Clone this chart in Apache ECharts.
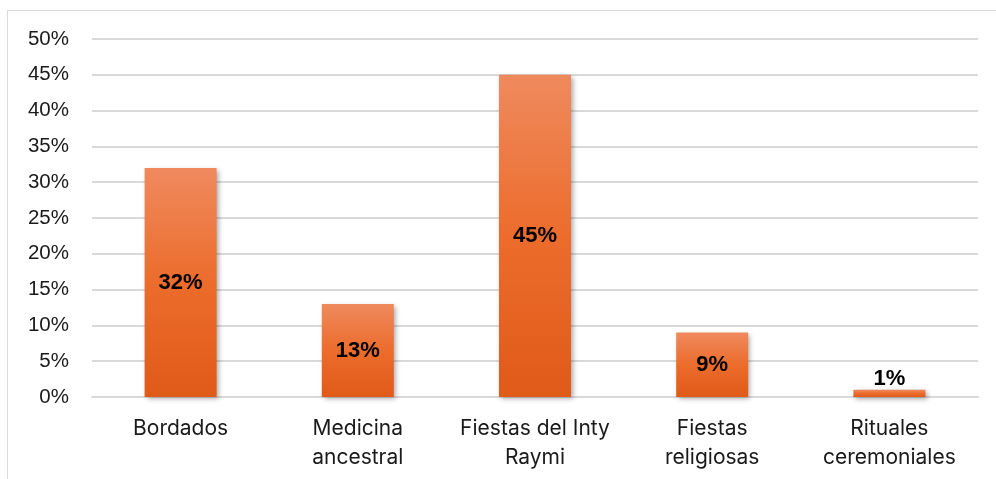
<!DOCTYPE html>
<html>
<head>
<meta charset="utf-8">
<script src="https://cdn.jsdelivr.net/npm/echarts@6/dist/echarts.min.js"></script>
<style>
  html, body { margin: 0; padding: 0; background: #ffffff; }
  #chart { width: 996px; height: 479px; }
</style>
</head>
<body>
<div id="chart"></div>
<script>
// Categories and percentages
const categories = ['Bordados', 'Medicina\nancestral', 'Fiestas del Inty\nRaymi', 'Fiestas\nreligiosas', 'Rituales\nceremoniales'];
const values = [32, 13, 45, 9, 1];
const yTicks = { min: 0, max: 50, step: 5 };

const chart = echarts.init(document.getElementById('chart'), null, { renderer: 'canvas' });

// Small bars get their label above the bar instead of inside
const barData = values.map(v => ({
  value: v,
  label: v < 3 ? { position: 'top', distance: 0 } : undefined
}));

chart.setOption({
  backgroundColor: '#ffffff',
  animation: false,
  graphic: [{
    type: 'rect',
    shape: { x: 7.5, y: 10.5, width: 1000, height: 500 },
    style: { fill: 'none', stroke: '#d9d9d9', lineWidth: 1 },
    silent: true
  }],
  grid: { left: 92, right: 18, top: 39, bottom: 82 },
  xAxis: {
    type: 'category',
    data: categories,
    axisLine: { show: true, lineStyle: { color: '#d9d9d9', width: 2 } },
    axisTick: { show: false },
    axisLabel: {
      color: '#1a1a1a',
      fontFamily: 'Inter',
      fontSize: 21,
      lineHeight: 29,
      margin: 17,
      interval: 0
    }
  },
  yAxis: {
    type: 'value',
    min: yTicks.min,
    max: yTicks.max,
    interval: yTicks.step,
    axisLine: { show: false },
    axisTick: { show: false },
    splitLine: { lineStyle: { color: '#d9d9d9', width: 2 } },
    axisLabel: {
      color: '#1a1a1a',
      fontFamily: 'Liberation Sans',
      fontSize: 20.5,
      margin: 23,
      formatter: '{value}%'
    }
  },
  series: [{
    type: 'bar',
    data: barData,
    barWidth: 72,
    itemStyle: {
      color: new echarts.graphic.LinearGradient(0, 0, 0, 1, [
        { offset: 0, color: '#EF8A5E' },
        { offset: 0.5, color: '#EC6C2C' },
        { offset: 1, color: '#E05A18' }
      ]),
      shadowColor: 'rgba(0,0,0,0.35)',
      shadowBlur: 5,
      shadowOffsetX: 2,
      shadowOffsetY: 2
    },
    label: {
      show: true,
      position: 'inside',
      formatter: '{c}%',
      color: '#000000',
      fontFamily: 'Liberation Sans',
      fontWeight: 'bold',
      fontSize: 22
    }
  }]
});
</script>
</body>
</html>
